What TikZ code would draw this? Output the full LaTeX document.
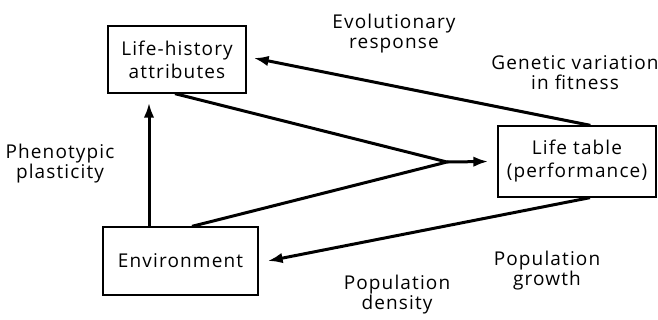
\documentclass[tikz,border=0pt]{standalone}
\usepackage{fontspec}
\setmainfont{Open Sans}[LetterSpace=6]
\usetikzlibrary{arrows.meta,calc}
\newcommand\boxfont{\fontsize{19}{23}\selectfont}
\newcommand\labfont{\fontsize{19}{20}\selectfont}
\begin{document}
\begin{tikzpicture}[x=1pt,y=-1pt,
  box/.style={draw,line width=1.3pt,inner sep=0pt,align=center,font=\boxfont},
  lab/.style={align=center,font=\labfont,inner sep=0pt},
  conn/.style={line width=3pt},
  arr/.style={conn,-{Latex[length=15pt,width=10.5pt]}}]
\useasboundingbox (0,0) rectangle (658,320);
\fill[white] (0,0) rectangle (658,320);
% boxes
\node[box,minimum width=138pt,minimum height=67pt] (lh) at (177,59.5) {Life-history\\attributes};
\node[box,minimum width=158pt,minimum height=71pt] (lt) at (577,161.5) {Life table\\(performance)};
\node[box,minimum width=155pt,minimum height=68pt] (env) at (180.5,261) {Environment};
% labels
\node[lab] (evo) at (394,34) {Evolutionary\\response};
\node[lab] (gen) at (575,73) {Genetic variation\\in fitness};
\node[lab] (phe) at (60,164) {Phenotypic\\plasticity};
\node[lab] (gro) at (547,271) {Population\\growth};
\node[lab] (den) at (397,295) {Population\\density};
% connectors
\coordinate (j) at (447,162);
\coordinate (vb) at ([xshift=-31.5pt]env.north);
\coordinate (vt) at ([xshift=-28pt,yshift=-9pt]lh.south);
\draw[arr] ([xshift=93pt]lt.north west) -- ([xshift=7pt,yshift=1.5pt]lh.east);
\draw[conn] ([xshift=-2pt]lh.south) -- (j) -- ([xshift=11.5pt]env.north);
\draw[arr] (j) -- ([xshift=-9pt]lt.west);
\draw[arr] (vb) -- (vt);
\draw[arr] ([xshift=13pt]lt.south) -- ([xshift=9pt]env.east);
\end{tikzpicture}
\end{document}
